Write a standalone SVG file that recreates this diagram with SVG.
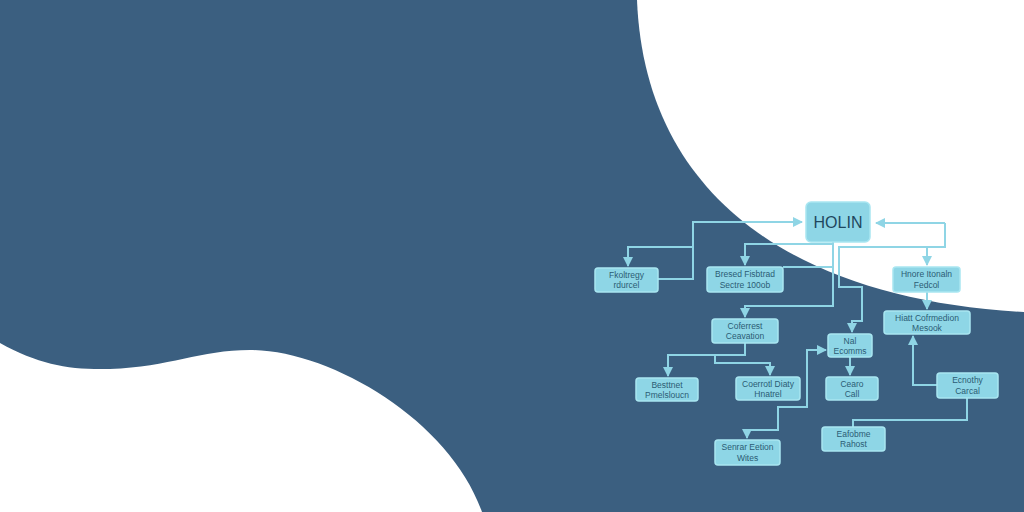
<svg xmlns="http://www.w3.org/2000/svg" width="1024" height="512" viewBox="0 0 1024 512">
<defs>
<style>
.bg{fill:#3b5f80}
.blob{fill:#ffffff}
.box{fill:#8ed6e6;stroke:#a9e6f1;stroke-width:1.5}
.t{font-family:"Liberation Sans",Arial,sans-serif;font-size:8.5px;fill:#2b5c74;text-anchor:middle}
.big{font-family:"Liberation Sans",Arial,sans-serif;font-size:16px;fill:#1f475e;text-anchor:middle}
.ln{fill:none;stroke:#8fd5e5;stroke-width:2}
</style>
<marker id="ah" viewBox="0 0 10 10" refX="9" refY="5" markerWidth="5" markerHeight="5" orient="auto-start-reverse">
<path d="M0,0 L10,5 L0,10 Z" fill="#8fd5e5"/>
</marker>
</defs>
<rect class="bg" x="0" y="0" width="1024" height="512"/>
<path class="blob" d="M637,0 C645,200 800,300 1024,312 L1024,0 Z"/>
<path class="blob" d="M0,343 C40,365 70,370 110,369 C170,367 200,350 250,350 C330,350 450,420 482,512 L0,512 Z"/>
<g id="connectors">
<path class="ln" d="M658,279 L693,279 L693,222 L802,222" marker-end="url(#ah)"/>
<path class="ln" d="M693,247 L628,247 L628,266" marker-end="url(#ah)"/>
<path class="ln" d="M945,223 L876,223" marker-end="url(#ah)"/>
<path class="ln" d="M945,223 L945,247 L839,247 L839,287 L862,287 L862,321 L852,321 L852,332" marker-end="url(#ah)"/>
<path class="ln" d="M927,247 L927,265" marker-end="url(#ah)"/>
<path class="ln" d="M833,242 L833,306 L745,306 L745,317" marker-end="url(#ah)"/>
<path class="ln" d="M833,244 L745,244 L745,265" marker-end="url(#ah)"/>
<path class="ln" d="M783,267 L833,267"/>
<path class="ln" d="M927,292 L927,309" marker-end="url(#ah)"/>
<path class="ln" d="M745,343 L745,355 L668,355 L668,376" marker-end="url(#ah)"/>
<path class="ln" d="M715,355 L715,363 L770,363 L770,375" marker-end="url(#ah)"/>
<path class="ln" d="M826,350 L807,350 L807,407 L778,407 L778,430 L747,430 L747,438" marker-start="url(#ah)" marker-end="url(#ah)"/>
<path class="ln" d="M850,357 L850,375" marker-end="url(#ah)"/>
<path class="ln" d="M937,385 L913,385 L913,336" marker-end="url(#ah)"/>
<path class="ln" d="M967,398 L967,420 L853,420 L853,427"/>
</g>
<g id="n-holin"><rect class="box" x="806" y="202" width="64" height="40" rx="5"/><text class="big" x="838" y="228">HOLIN</text></g>
<g id="n1"><rect class="box" x="595" y="268" width="63" height="24" rx="3"/><text class="t" x="626.5" y="278">Fkoltregy</text><text class="t" x="626.5" y="288">rdurcel</text></g>
<g id="n2"><rect class="box" x="707" y="267" width="76" height="25" rx="3"/><text class="t" x="745" y="277">Bresed Fisbtrad</text><text class="t" x="745" y="288">Sectre 100ob</text></g>
<g id="n3"><rect class="box" x="893" y="267" width="67" height="25" rx="3"/><text class="t" x="926.5" y="277">Hnore Itonaln</text><text class="t" x="926.5" y="288">Fedcol</text></g>
<g id="n4"><rect class="box" x="712" y="319" width="66" height="24" rx="3"/><text class="t" x="745" y="329">Coferrest</text><text class="t" x="745" y="339">Ceavation</text></g>
<g id="n5"><rect class="box" x="884" y="311" width="86" height="23" rx="3"/><text class="t" x="927" y="321">Hiatt Cofrmedion</text><text class="t" x="927" y="331">Mesook</text></g>
<g id="n6"><rect class="box" x="828" y="334" width="44" height="23" rx="3"/><text class="t" x="850" y="344">Nal</text><text class="t" x="850" y="354">Ecomms</text></g>
<g id="n7"><rect class="box" x="636" y="378" width="62" height="23" rx="3"/><text class="t" x="667" y="388">Besttnet</text><text class="t" x="667" y="398">Pmelsloucn</text></g>
<g id="n8"><rect class="box" x="736" y="377" width="64" height="23" rx="3"/><text class="t" x="768" y="387">Coerrotl Diaty</text><text class="t" x="768" y="397">Hnatrel</text></g>
<g id="n9"><rect class="box" x="826" y="377" width="52" height="23" rx="3"/><text class="t" x="852" y="387">Cearo</text><text class="t" x="852" y="397">Call</text></g>
<g id="n10"><rect class="box" x="937" y="373" width="61" height="25" rx="3"/><text class="t" x="967.5" y="383">Ecnothy</text><text class="t" x="967.5" y="394">Carcal</text></g>
<g id="n11"><rect class="box" x="715" y="440" width="65" height="25" rx="3"/><text class="t" x="747.5" y="450">Senrar Eetion</text><text class="t" x="747.5" y="461">Wites</text></g>
<g id="n12"><rect class="box" x="822" y="427" width="63" height="24" rx="3"/><text class="t" x="853.5" y="437">Eafobme</text><text class="t" x="853.5" y="447">Rahost</text></g>
</svg>
